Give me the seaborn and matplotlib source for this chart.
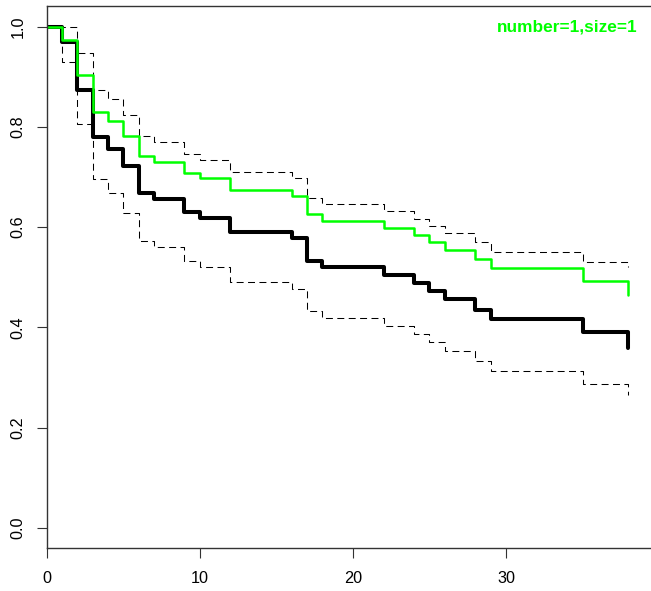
import matplotlib
matplotlib.use("Agg")
import matplotlib.pyplot as plt
import seaborn as sns
import pandas as pd

times = [0, 1, 2, 3, 4, 5, 6, 7, 9, 10, 12, 16, 17, 18, 22, 24, 25, 26, 28, 29, 35, 38]
surv_black = [1.0, 0.969, 0.874, 0.779, 0.755, 0.721, 0.669, 0.657, 0.631, 0.618, 0.590,
              0.578, 0.533, 0.521, 0.505, 0.488, 0.473, 0.457, 0.435, 0.416, 0.390, 0.358]
surv_green = [1.0, 0.973, 0.904, 0.829, 0.811, 0.781, 0.741, 0.729, 0.708, 0.698, 0.674,
              0.663, 0.626, 0.613, 0.599, 0.585, 0.570, 0.555, 0.537, 0.518, 0.493, 0.465]
ci_upper = [1.0, 1.0, 0.947, 0.874, 0.855, 0.824, 0.781, 0.769, 0.746, 0.734, 0.710,
            0.698, 0.658, 0.646, 0.632, 0.616, 0.602, 0.588, 0.570, 0.551, 0.531, 0.521]
ci_lower = [1.0, 0.930, 0.806, 0.696, 0.669, 0.628, 0.573, 0.560, 0.533, 0.520, 0.491,
            0.476, 0.432, 0.418, 0.403, 0.386, 0.370, 0.353, 0.333, 0.313, 0.287, 0.265]
x_ticks = [0, 10, 20, 30]
y_ticks = [0.0, 0.2, 0.4, 0.6, 0.8, 1.0]
legend_text = "number=1,size=1"

sns.set_style("white")
plt.rcParams['font.family'] = ['Liberation Sans', 'DejaVu Sans']
plt.rcParams['lines.scale_dashes'] = False

df = pd.DataFrame({"time": times, "black": surv_black, "green": surv_green,
                   "upper": ci_upper, "lower": ci_lower})

fig = plt.figure(figsize=(6.51, 5.91), dpi=100)
ax = fig.add_axes([46.7 / 651, (591 - 548.3) / 591, 40 * 15.31 / 651, (548.3 - 6) / 591])

for col in ["upper", "lower"]:
    sns.lineplot(data=df, x="time", y=col, ax=ax, drawstyle="steps-post", color="black",
                 linewidth=0.75, linestyle=(0, (5, 3.2)), estimator=None, sort=False)
sns.lineplot(data=df, x="time", y="black", ax=ax, drawstyle="steps-post", color="black",
             linewidth=2.9, estimator=None, sort=False)
sns.lineplot(data=df, x="time", y="green", ax=ax, drawstyle="steps-post", color="#00FF00",
             linewidth=1.8, estimator=None, sort=False)

ax.set_xlim(0, 40)
ax.set_ylim(-0.0405, 1.041)
ax.set_xticks(x_ticks)
ax.set_xticklabels([str(t) for t in x_ticks])
ax.set_yticks(y_ticks)
ax.set_yticklabels([f"{v:.1f}" for v in y_ticks], rotation=90, va="center")
ax.set_xlabel("")
ax.set_ylabel("")
ax.tick_params(axis="both", direction="out", length=7.5, width=0.8, color="#333333",
               labelsize=11.7, labelcolor="black", left=True, bottom=True)
ax.tick_params(axis="x", pad=9.0)
ax.tick_params(axis="y", pad=7.5)
for s in ["left", "bottom", "top"]:
    ax.spines[s].set_visible(True)
    ax.spines[s].set_color("#333333")
    ax.spines[s].set_linewidth(1.0)
ax.spines["right"].set_visible(False)
ax.grid(False)

fig.text(638 / 651, 1 - 26.7 / 591, legend_text, color="#00FF00", fontsize=12.4,
         fontweight="bold", ha="right", va="center")

fig.savefig("out.png", dpi=100)
